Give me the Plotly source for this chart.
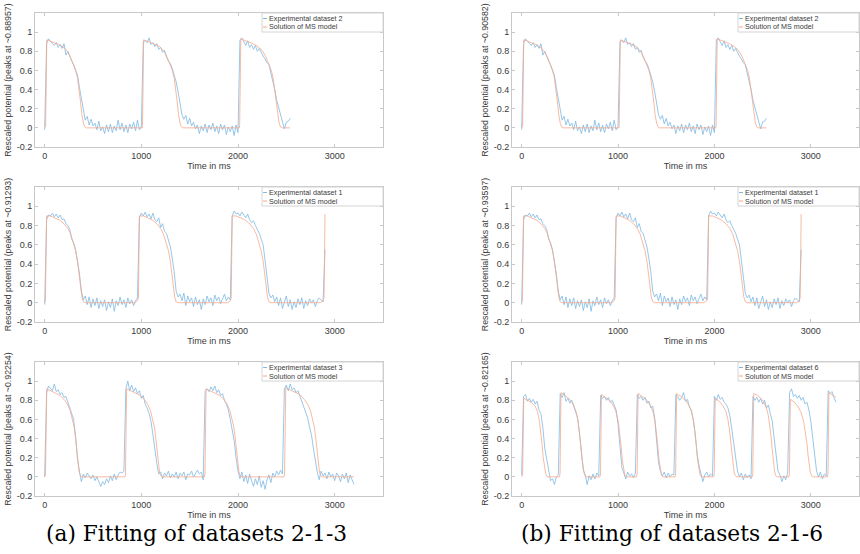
import plotly.graph_objects as go

# ---------------- data ----------------
DT_MS = 20  # sampling step of the experimental traces

# Experimental dataset 2 (t = 0 .. 2540 ms)
exp_ds2 = [
    -0.02, 0.88, 0.93, 0.91, 0.89, 0.86, 0.89, 0.84, 0.87, 0.83,
    0.88, 0.76, 0.80, 0.74, 0.70, 0.66, 0.61, 0.55, 0.42, 0.30,
    0.16, 0.08, 0.12, 0.03, 0.09, 0.02, 0.05, -0.02, 0.07, -0.03,
    0.01, -0.06, 0.03, -0.04, 0.04, -0.05, 0.02, -0.03, 0.08, -0.02,
    0.05, -0.04, 0.03, -0.05, 0.04, -0.01, 0.06, -0.03, 0.08, -0.02,
    0.01, 0.90, 0.91, 0.89, 0.94, 0.87, 0.89, 0.85, 0.88, 0.82,
    0.84, 0.79, 0.81, 0.74, 0.70, 0.67, 0.62, 0.56, 0.48, 0.38,
    0.24, 0.14, 0.09, 0.13, 0.04, 0.10, 0.02, 0.06, -0.01, 0.03,
    -0.06, 0.02, -0.03, 0.04, -0.05, 0.03, -0.02, 0.05, -0.04, 0.02,
    -0.06, 0.04, -0.02, 0.03, -0.07, 0.01, -0.04, 0.02, -0.08, 0.03,
    -0.05, 0.92, 0.94, 0.90, 0.86, 0.91, 0.84, 0.87, 0.82, 0.86,
    0.80, 0.83, 0.78, 0.75, 0.72, 0.68, 0.66, 0.58, 0.49, 0.40,
    0.29, 0.21, 0.14, 0.08, -0.01, 0.06, 0.07, 0.10,
]

# Experimental dataset 1 (t = 0 .. 2900 ms)
exp_ds1 = [
    -0.02, 0.86, 0.91, 0.90, 0.93, 0.89, 0.92, 0.88, 0.91, 0.86,
    0.87, 0.82, 0.80, 0.76, 0.66, 0.62, 0.55, 0.44, 0.30, 0.12,
    0.03, 0.07, -0.02, 0.06, -0.05, 0.04, -0.03, 0.05, -0.06, 0.02,
    -0.04, 0.03, -0.08, 0.01, -0.05, 0.04, -0.09, 0.02, -0.03, 0.06,
    -0.02, 0.03, -0.05, 0.05, -0.01, 0.03, -0.03, 0.02, 0.05, 0.88,
    0.93, 0.90, 0.94, 0.89, 0.92, 0.87, 0.93, 0.86, 0.84, 0.88,
    0.78, 0.82, 0.74, 0.72, 0.64, 0.58, 0.46, 0.32, 0.12, 0.06,
    0.09, 0.02, 0.10, -0.03, 0.07, 0.01, 0.05, -0.04, 0.06, -0.02,
    0.03, -0.07, 0.04, -0.02, 0.07, 0.01, 0.05, -0.03, 0.08, 0.02,
    0.06, -0.01, 0.04, 0.09, 0.02, 0.06, 0.03, 0.90, 0.95, 0.92,
    0.93, 0.90, 0.94, 0.91, 0.88, 0.92, 0.86, 0.83, 0.85, 0.80,
    0.76, 0.72, 0.66, 0.60, 0.44, 0.24, 0.10, 0.05, 0.08, 0.01,
    0.06, -0.03, 0.05, -0.06, 0.02, 0.07, -0.04, 0.03, -0.07, 0.01,
    -0.05, 0.04, -0.02, 0.05, -0.06, 0.02, -0.03, 0.04, 0.00, 0.03,
    -0.04, 0.02, 0.05, 0.03, 0.01, 0.55,
]

# Experimental dataset 3 (t = 0 .. 3200 ms)
exp_ds3 = [
    0.00, 0.88, 0.95, 0.92, 0.90, 0.97, 0.89, 0.91, 0.86, 0.88,
    0.83, 0.84, 0.78, 0.74, 0.66, 0.60, 0.42, 0.18, 0.05, -0.05,
    0.03, -0.01, 0.04, 0.01, -0.02, 0.02, -0.04, 0.00, -0.06, -0.10,
    -0.05, -0.08, -0.02, -0.06, 0.01, -0.04, 0.03, -0.03, 0.02, 0.05,
    0.04, 0.06, 0.92, 1.00, 0.90, 0.96, 0.89, 0.93, 0.87, 0.90,
    0.82, 0.85, 0.76, 0.72, 0.66, 0.58, 0.44, 0.28, 0.14, 0.03,
    0.05, -0.02, 0.04, 0.01, 0.06, -0.01, 0.03, 0.00, 0.05, -0.02,
    0.04, 0.01, 0.05, -0.03, 0.03, 0.02, 0.06, 0.00, 0.04, 0.07,
    0.03, 0.05, -0.03, 0.90, 0.92, 0.89, 0.94, 0.90, 0.95, 0.88,
    0.91, 0.85, 0.87, 0.80, 0.76, 0.70, 0.60, 0.50, 0.38, 0.20,
    0.06, -0.02, 0.05, -0.05, 0.02, -0.07, 0.03, -0.04, -0.10, -0.02,
    -0.08, 0.01, -0.11, -0.04, -0.13, -0.03, 0.02, -0.06, 0.04, 0.00,
    0.06, 0.02, 0.07, 0.03, 0.92, 0.96, 0.90, 0.97, 0.91, 0.93,
    0.88, 0.90, 0.84, 0.80, 0.74, 0.68, 0.62, 0.52, 0.44, 0.30,
    0.16, 0.05, -0.03, 0.06, 0.01, 0.04, -0.02, 0.05, 0.00, 0.03,
    -0.04, 0.04, 0.01, -0.05, 0.03, -0.02, 0.04, -0.06, 0.02, -0.03,
    -0.08,
]

# Experimental dataset 6 (t = 0 .. 3260 ms)
exp_ds6 = [
    0.02, 0.84, 0.86, 0.79, 0.82, 0.78, 0.81, 0.76, 0.79, 0.70,
    0.66, 0.52, 0.30, 0.18, 0.05, -0.04, -0.02, -0.08, 0.00, 0.02,
    0.87, 0.83, 0.88, 0.79, 0.82, 0.77, 0.80, 0.74, 0.70, 0.62,
    0.46, 0.24, 0.07, 0.02, -0.08, 0.01, -0.03, 0.03, -0.02, 0.04,
    0.01, 0.85, 0.82, 0.84, 0.80, 0.83, 0.78, 0.80, 0.74, 0.70,
    0.55, 0.32, 0.10, 0.04, -0.02, 0.05, 0.01, 0.03, -0.01, 0.04,
    0.86, 0.82, 0.84, 0.80, 0.83, 0.77, 0.79, 0.72, 0.74, 0.62,
    0.38, 0.15, 0.06, 0.01, 0.05, -0.01, 0.04, 0.00, 0.03, 0.02,
    0.86, 0.84, 0.80, 0.83, 0.88, 0.79, 0.81, 0.73, 0.70, 0.60,
    0.46, 0.24, 0.12, 0.04, -0.05, 0.02, 0.05, 0.00, 0.03, 0.01,
    0.84, 0.80, 0.86, 0.81, 0.83, 0.78, 0.76, 0.72, 0.64, 0.50,
    0.34, 0.18, 0.06, 0.00, 0.04, -0.03, 0.03, -0.01, 0.02, -0.02,
    0.84, 0.80, 0.83, 0.78, 0.82, 0.76, 0.80, 0.72, 0.75, 0.66,
    0.58, 0.40, 0.20, 0.06, 0.02, -0.05, 0.01, -0.03, 0.04, 0.88,
    0.92, 0.84, 0.86, 0.82, 0.85, 0.80, 0.83, 0.76, 0.78, 0.70,
    0.58, 0.40, 0.20, 0.06, 0.00, 0.05, -0.02, 0.03, 0.01, 0.90,
    0.87, 0.89, 0.83, 0.78,
]

# MS model solutions (time in ms, rescaled potential)
model_ds2_t = [0, 10, 22, 50, 100, 150, 200, 240, 270, 300, 320, 340, 355, 370, 385, 400, 415, 430,
               1010, 1012, 1024, 1050, 1100, 1150, 1200, 1240, 1270, 1300, 1320, 1340, 1355, 1370, 1385, 1400, 1415, 1430,
               2015, 2017, 2029, 2055, 2105, 2155, 2205, 2250, 2285, 2320, 2345, 2365, 2380, 2395, 2410, 2425, 2440, 2455, 2540]
model_ds2_v = [0.0, 0.02, 0.92, 0.91, 0.89, 0.87, 0.84, 0.79, 0.73, 0.66, 0.60, 0.52, 0.42, 0.28, 0.14, 0.05, 0.01, 0.0,
               0.0, 0.02, 0.92, 0.91, 0.89, 0.87, 0.84, 0.79, 0.73, 0.66, 0.60, 0.52, 0.42, 0.28, 0.14, 0.05, 0.01, 0.0,
               0.0, 0.02, 0.93, 0.92, 0.90, 0.88, 0.85, 0.81, 0.75, 0.67, 0.60, 0.51, 0.40, 0.27, 0.13, 0.05, 0.01, 0.0, 0.0]

model_ds1_t = [0, 8, 20, 60, 100, 150, 200, 240, 270, 300, 320, 340, 355, 370, 385, 400, 420, 930, 960, 970,
               980, 1020, 1060, 1110, 1160, 1200, 1230, 1260, 1280, 1300, 1315, 1330, 1345, 1360, 1380, 1890, 1920, 1930,
               1940, 1980, 2020, 2070, 2120, 2160, 2190, 2220, 2240, 2260, 2275, 2290, 2305, 2320, 2340, 2850, 2880, 2890, 2900]
model_ds1_v = [0.0, 0.02, 0.90, 0.90, 0.88, 0.86, 0.82, 0.77, 0.71, 0.62, 0.54, 0.43, 0.30, 0.16, 0.06, 0.01, 0.0, 0.0, 0.02, 0.05,
               0.90, 0.90, 0.88, 0.86, 0.82, 0.77, 0.71, 0.62, 0.54, 0.43, 0.30, 0.16, 0.06, 0.01, 0.0, 0.0, 0.02, 0.05,
               0.90, 0.90, 0.88, 0.86, 0.82, 0.77, 0.71, 0.62, 0.54, 0.43, 0.30, 0.16, 0.06, 0.01, 0.0, 0.0, 0.02, 0.05, 0.92]

model_ds3_t = [0, 8, 22, 60, 110, 160, 200, 235, 265, 290, 305, 320, 333, 345, 358, 372, 390,
               830, 836, 848, 890, 940, 990, 1030, 1065, 1095, 1120, 1135, 1150, 1163, 1175, 1188, 1202, 1220,
               1652, 1658, 1670, 1712, 1762, 1812, 1852, 1887, 1917, 1942, 1957, 1972, 1985, 1997, 2010, 2024, 2042,
               2476, 2482, 2494, 2540, 2590, 2640, 2685, 2720, 2750, 2775, 2790, 2805, 2818, 2830, 2843, 2857, 2875, 3200]
model_ds3_v = [0.0, 0.03, 0.92, 0.90, 0.88, 0.85, 0.81, 0.76, 0.69, 0.60, 0.52, 0.40, 0.27, 0.14, 0.05, 0.01, 0.0,
               0.0, 0.03, 0.92, 0.90, 0.88, 0.85, 0.81, 0.76, 0.69, 0.60, 0.52, 0.40, 0.27, 0.14, 0.05, 0.01, 0.0,
               0.0, 0.03, 0.92, 0.90, 0.88, 0.85, 0.81, 0.76, 0.69, 0.60, 0.52, 0.40, 0.27, 0.14, 0.05, 0.01, 0.0,
               0.0, 0.03, 0.93, 0.91, 0.89, 0.86, 0.81, 0.76, 0.69, 0.60, 0.52, 0.40, 0.27, 0.14, 0.05, 0.01, 0.0, 0.0]

model_ds6_t = [0, 10, 22, 60, 100, 140, 165, 185, 200, 212, 224, 236, 250, 265,
               392, 398, 408, 450, 500, 540, 565, 585, 600, 612, 624, 636, 650, 665,
               812, 818, 828, 870, 920, 960, 985, 1005, 1020, 1032, 1044, 1056, 1070, 1085,
               1192, 1198, 1208, 1250, 1300, 1340, 1365, 1385, 1400, 1412, 1424, 1436, 1450, 1465,
               1592, 1598, 1608, 1650, 1700, 1740, 1765, 1785, 1800, 1812, 1824, 1836, 1850, 1865,
               1992, 1998, 2008, 2050, 2090, 2120, 2140, 2155, 2168, 2180, 2192, 2205, 2220, 2235,
               2392, 2398, 2408, 2450, 2500, 2540, 2560, 2575, 2588, 2600, 2612, 2624, 2638, 2655,
               2772, 2778, 2788, 2830, 2870, 2900, 2925, 2945, 2960, 2972, 2984, 2996, 3010, 3025,
               3172, 3178, 3188, 3220, 3260]
model_ds6_v = [0.0, 0.02, 0.82, 0.80, 0.78, 0.74, 0.68, 0.58, 0.47, 0.34, 0.20, 0.09, 0.03, 0.0,
               0.0, 0.03, 0.88, 0.85, 0.81, 0.75, 0.68, 0.58, 0.47, 0.34, 0.20, 0.09, 0.03, 0.0,
               0.0, 0.03, 0.86, 0.83, 0.79, 0.73, 0.66, 0.56, 0.45, 0.32, 0.18, 0.08, 0.02, 0.0,
               0.0, 0.03, 0.87, 0.84, 0.80, 0.74, 0.67, 0.57, 0.46, 0.33, 0.19, 0.08, 0.02, 0.0,
               0.0, 0.03, 0.87, 0.84, 0.80, 0.74, 0.67, 0.57, 0.46, 0.33, 0.19, 0.08, 0.02, 0.0,
               0.0, 0.03, 0.82, 0.79, 0.74, 0.68, 0.60, 0.50, 0.38, 0.24, 0.12, 0.04, 0.01, 0.0,
               0.0, 0.03, 0.87, 0.85, 0.80, 0.72, 0.64, 0.54, 0.42, 0.28, 0.15, 0.06, 0.01, 0.0,
               0.0, 0.03, 0.81, 0.78, 0.73, 0.67, 0.58, 0.47, 0.35, 0.22, 0.11, 0.04, 0.01, 0.0,
               0.0, 0.03, 0.88, 0.86, 0.83]

# panel labels
dataset_labels = ["Experimental dataset 2", "Experimental dataset 2",
                  "Experimental dataset 1", "Experimental dataset 1",
                  "Experimental dataset 3", "Experimental dataset 6"]
peak_labels = ["0.88957", "0.90582", "0.91293", "0.93597", "0.92254", "0.82165"]
model_label = "Solution of MS model"
caption_labels = ["(a) Fitting of datasets 2-1-3", "(b) Fitting of datasets 2-1-6"]
x_tick_vals = [0, 1000, 2000, 3000]
x_tick_text = ["0", "1000", "2000", "3000"]
y_tick_vals = [-0.2, 0, 0.2, 0.4, 0.6, 0.8, 1]
y_tick_text = ["-0.2", "0", "0.2", "0.4", "0.6", "0.8", "1"]

# ---------------- figure ----------------
W, H = 860, 554
OFF = 0  # page body margin is removed below, so figure pixels == window pixels
BLUE = "#7DB9E3"
ORANGE = "#F6A88A"
FRAME = "#C8C8C8"
TXT = "#3A3A3A"
FONT = "Liberation Sans, Arial, sans-serif"

# panel order: row1 L, row1 R, row2 L, row2 R, row3 L, row3 R
panel_exp = [exp_ds2, exp_ds2, exp_ds1, exp_ds1, exp_ds3, exp_ds6]
panel_model = [(model_ds2_t, model_ds2_v), (model_ds2_t, model_ds2_v),
               (model_ds1_t, model_ds1_v), (model_ds1_t, model_ds1_v),
               (model_ds3_t, model_ds3_v), (model_ds6_t, model_ds6_v)]

col_px = [(35, 383), (512, 859)]
row_px = [(13, 147), (187, 322), (362, 496)]


def px_x(p):
    return (p - OFF) / W


def px_y(p):
    return 1 - (p - OFF) / H


fig = go.Figure()
layout = dict(
    width=W, height=H, margin=dict(l=0, r=0, t=0, b=0),
    paper_bgcolor="white", plot_bgcolor="white",
    showlegend=False, font=dict(family=FONT, size=9, color=TXT),
)
shapes, annotations = [], []

for i in range(6):
    r, c = divmod(i, 2)
    n = i + 1
    xa = "x" if n == 1 else f"x{n}"
    ya = "y" if n == 1 else f"y{n}"
    vals = panel_exp[i]
    times = [k * DT_MS for k in range(len(vals))]
    mt, mv = panel_model[i]
    fig.add_trace(go.Scatter(x=times, y=vals, mode="lines", name=dataset_labels[i],
                             line=dict(color=BLUE, width=0.8), xaxis=xa, yaxis=ya))
    fig.add_trace(go.Scatter(x=mt, y=mv, mode="lines", name=model_label,
                             line=dict(color=ORANGE, width=0.8), xaxis=xa, yaxis=ya))
    x0, x1 = col_px[c]
    y0, y1 = row_px[r]
    axis_common = dict(showline=True, linecolor=FRAME, linewidth=1, mirror="ticks",
                       ticks="inside", ticklen=3, tickcolor=FRAME, showgrid=False,
                       zeroline=False, automargin=False,
                       tickfont=dict(family=FONT, size=9, color=TXT))
    layout["xaxis" if n == 1 else f"xaxis{n}"] = dict(
        axis_common, domain=[px_x(x0), px_x(x1)], range=[-100, 3500], anchor=ya,
        tickvals=x_tick_vals, ticktext=x_tick_text,
        title=dict(text="Time in ms", standoff=0, font=dict(family=FONT, size=9, color=TXT)))
    layout["yaxis" if n == 1 else f"yaxis{n}"] = dict(
        axis_common, domain=[px_y(y1), px_y(y0)], range=[-0.2, 1.2], anchor=xa,
        tickvals=y_tick_vals, ticktext=y_tick_text,
        title=dict(text=f"Rescaled potential (peaks at ~{peak_labels[i]})", standoff=3,
                   font=dict(family=FONT, size=8.8, color=TXT)))
    # legend box (top-right, inside the axes)
    xd, yd = f"{xa} domain", f"{ya} domain"
    pw, ph = x1 - x0, y1 - y0
    bx0 = 1 - 121 / pw
    by0 = 1 - 19 / ph
    shapes.append(dict(type="rect", xref=xd, yref=yd, x0=bx0, x1=1, y0=by0, y1=1,
                       line=dict(color="#D4D4D4", width=1), fillcolor="white", layer="above"))
    for j, (lab, col) in enumerate([(dataset_labels[i], BLUE), (model_label, ORANGE)]):
        yy = 1 - (5.5 + 8.5 * j) / ph
        shapes.append(dict(type="line", xref=xd, yref=yd, x0=bx0 + 1 / pw, x1=bx0 + 5 / pw,
                           y0=yy, y1=yy, line=dict(color=col, width=1), layer="above"))
        annotations.append(dict(xref=xd, yref=yd, x=bx0 + 6 / pw, y=yy, text=lab,
                                showarrow=False, xanchor="left", yanchor="middle",
                                font=dict(family=FONT, size=7.2, color=TXT), borderpad=0))

for k, cx in enumerate([196, 672]):
    annotations.append(dict(xref="paper", yref="paper", x=px_x(cx), y=px_y(533),
                            text=caption_labels[k], showarrow=False,
                            xanchor="center", yanchor="middle",
                            font=dict(family="DejaVu Serif, serif", size=21.7, color="black")))

layout["shapes"] = shapes
layout["annotations"] = annotations
fig.update_layout(**layout)
fig.write_html("out.html", config={"displayModeBar": False},
               post_script="document.body.style.margin='0px';")
